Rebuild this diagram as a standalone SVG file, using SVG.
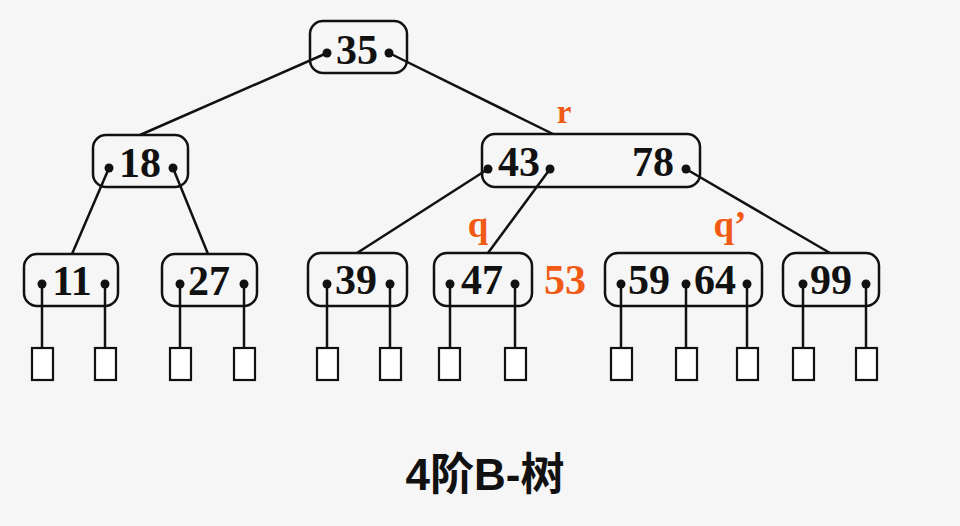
<svg xmlns="http://www.w3.org/2000/svg" width="960" height="526" viewBox="0 0 960 526">
<style>
.box{fill:none;stroke:#111;stroke-width:2.5}
.leaf{fill:#fff;stroke:#111;stroke-width:2.2}
.ln{stroke:#111;stroke-width:2.5;fill:none}
.dot{fill:#111}
.k{font-family:"Liberation Serif","Times New Roman",serif;font-weight:bold;font-size:42px;fill:#111;text-anchor:middle}
.o{font-family:"Liberation Serif","Times New Roman",serif;font-weight:bold;fill:#F05A14;text-anchor:middle}
.t{font-family:"Liberation Sans","Noto Sans CJK SC",sans-serif;font-weight:bold;font-size:44px;fill:#111;text-anchor:middle}
</style>
<rect width="960" height="526" fill="#F6F6F6"/>
<g id="connectors">
<line class="ln" x1="327" y1="53" x2="140" y2="135"/>
<line class="ln" x1="389" y1="53" x2="553" y2="134"/>
<line class="ln" x1="109" y1="168" x2="72" y2="254"/>
<line class="ln" x1="173" y1="168" x2="208" y2="254"/>
<line class="ln" x1="488" y1="169" x2="357" y2="253"/>
<line class="ln" x1="550" y1="169" x2="488" y2="253"/>
<line class="ln" x1="686" y1="169" x2="830" y2="253"/>
<line class="ln" x1="42" y1="284" x2="42" y2="348"/>
<line class="ln" x1="105" y1="284" x2="105" y2="348"/>
<line class="ln" x1="180" y1="284" x2="180" y2="348"/>
<line class="ln" x1="244" y1="284" x2="244" y2="348"/>
<line class="ln" x1="327" y1="284" x2="327" y2="348"/>
<line class="ln" x1="390" y1="284" x2="390" y2="348"/>
<line class="ln" x1="450" y1="284" x2="450" y2="348"/>
<line class="ln" x1="515" y1="284" x2="515" y2="348"/>
<line class="ln" x1="621" y1="284" x2="621" y2="348"/>
<line class="ln" x1="686" y1="284" x2="686" y2="348"/>
<line class="ln" x1="747" y1="284" x2="747" y2="348"/>
<line class="ln" x1="803" y1="284" x2="803" y2="348"/>
<line class="ln" x1="866" y1="284" x2="866" y2="348"/>
</g>
<g id="n35">
<rect class="box" x="310" y="21" width="97" height="52" rx="13"/>
<text class="k" x="357" y="64">35</text>
<circle class="dot" cx="327" cy="53" r="4.5"/><circle class="dot" cx="389" cy="53" r="4.5"/>
</g>
<g id="n18">
<rect class="box" x="93" y="135" width="95" height="52" rx="13"/>
<text class="k" x="140" y="177">18</text>
<circle class="dot" cx="109" cy="168" r="4.5"/><circle class="dot" cx="173" cy="168" r="4.5"/>
</g>
<g id="n43_78">
<rect class="box" x="482" y="134" width="218" height="53" rx="13"/>
<text class="k" x="519" y="176">43</text>
<text class="k" x="653" y="176">78</text>
<circle class="dot" cx="488" cy="169" r="4.5"/><circle class="dot" cx="550" cy="169" r="4.5"/><circle class="dot" cx="686" cy="169" r="4.5"/>
</g>
<g id="n11">
<rect class="box" x="24" y="254" width="94" height="52" rx="13"/>
<text class="k" x="72" y="295">11</text>
<circle class="dot" cx="42" cy="284" r="4.5"/><circle class="dot" cx="105" cy="284" r="4.5"/>
</g>
<g id="n27">
<rect class="box" x="162" y="254" width="95" height="52" rx="13"/>
<text class="k" x="209" y="295">27</text>
<circle class="dot" cx="180" cy="284" r="4.5"/><circle class="dot" cx="244" cy="284" r="4.5"/>
</g>
<g id="n39">
<rect class="box" x="308" y="253" width="99" height="53" rx="13"/>
<text class="k" x="356" y="294">39</text>
<circle class="dot" cx="327" cy="284" r="4.5"/><circle class="dot" cx="390" cy="284" r="4.5"/>
</g>
<g id="n47">
<rect class="box" x="434" y="253" width="98" height="53" rx="13"/>
<text class="k" x="482" y="294">47</text>
<circle class="dot" cx="450" cy="284" r="4.5"/><circle class="dot" cx="515" cy="284" r="4.5"/>
</g>
<g id="n59_64">
<rect class="box" x="605" y="253" width="157" height="53" rx="13"/>
<text class="k" x="649" y="294">59</text>
<text class="k" x="715" y="294">64</text>
<circle class="dot" cx="621" cy="284" r="4.5"/><circle class="dot" cx="686" cy="284" r="4.5"/><circle class="dot" cx="747" cy="284" r="4.5"/>
</g>
<g id="n99">
<rect class="box" x="783" y="253" width="96" height="53" rx="13"/>
<text class="k" x="831" y="294">99</text>
<circle class="dot" cx="803" cy="284" r="4.5"/><circle class="dot" cx="866" cy="284" r="4.5"/>
</g>
<g id="leaves">
<rect class="leaf" x="32" y="348" width="21" height="32"/>
<rect class="leaf" x="95" y="348" width="21" height="32"/>
<rect class="leaf" x="170" y="348" width="21" height="32"/>
<rect class="leaf" x="234" y="348" width="21" height="32"/>
<rect class="leaf" x="317" y="348" width="21" height="32"/>
<rect class="leaf" x="380" y="348" width="21" height="32"/>
<rect class="leaf" x="439" y="348" width="21" height="32"/>
<rect class="leaf" x="505" y="348" width="21" height="32"/>
<rect class="leaf" x="611" y="348" width="21" height="32"/>
<rect class="leaf" x="676" y="348" width="21" height="32"/>
<rect class="leaf" x="737" y="348" width="21" height="32"/>
<rect class="leaf" x="793" y="348" width="21" height="32"/>
<rect class="leaf" x="856" y="348" width="21" height="32"/>
</g>
<g id="labels">
<text class="o" x="564" y="123" font-size="33">r</text>
<text class="o" x="478" y="237" font-size="37">q</text>
<text class="o" x="730" y="237" font-size="37">q’</text>
<text class="o" x="565" y="294" font-size="42">53</text>
</g>
<text class="t" x="485" y="490">4阶B-树</text>
</svg>
